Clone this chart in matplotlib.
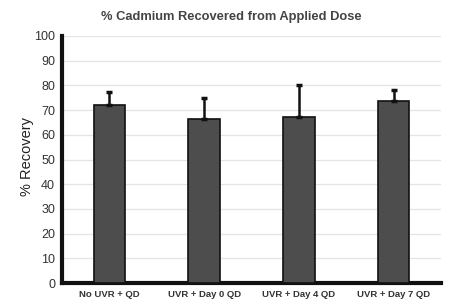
import matplotlib
matplotlib.use("Agg")
import matplotlib.pyplot as plt
import numpy as np

plt.rcParams["font.family"] = ["Liberation Sans", "DejaVu Sans"]

categories = ["No UVR + QD", "UVR + Day 0 QD", "UVR + Day 4 QD", "UVR + Day 7 QD"]
values = [72.1, 66.3, 67.3, 73.6]
errors = [5.2, 8.5, 12.7, 4.5]
yticks = list(range(0, 101, 10))

fig = plt.figure(figsize=(4.63, 3.06), dpi=100)
ax = fig.add_axes([62/463, 1-283/306, 379/463, 247/306])
x = np.arange(len(categories))
ax.bar(x, values, width=0.33, color="#4d4d4d", edgecolor="#111111", linewidth=1.2, zorder=3)
ax.errorbar(x, values, yerr=[np.zeros(len(errors)), errors], fmt="none", ecolor="#111111",
            elinewidth=1.8, capsize=2.5, capthick=2.5, zorder=4)
ax.set_xlim(-0.5, 3.5)
ax.set_ylim(0, 100)
ax.set_yticks(yticks)
ax.set_yticklabels([str(t) for t in yticks], fontsize=9, color="#333333")
ax.set_xticks(x)
ax.set_xticklabels(categories, fontsize=6.8, color="#333333", fontweight="bold")
ax.tick_params(axis="both", length=0, pad=5)
ax.grid(axis="y", color="#e4e4e4", linewidth=0.9, zorder=0)
for s in ["top", "right"]:
    ax.spines[s].set_visible(False)
ax.spines["left"].set_linewidth(3)
ax.spines["bottom"].set_linewidth(3)
ax.spines["left"].set_color("#111111")
ax.spines["bottom"].set_color("#111111")
ax.set_ylabel("% Recovery", fontsize=10.5, color="#222222", labelpad=0)
ax.yaxis.set_label_coords(-28/379, 0.5 + 3/247)
fig.text(0.5, 1-17/306, "% Cadmium Recovered from Applied Dose", ha="center", va="center",
         fontsize=9.3, color="#444444", fontweight="bold")
fig.savefig("out.png", dpi=100)
